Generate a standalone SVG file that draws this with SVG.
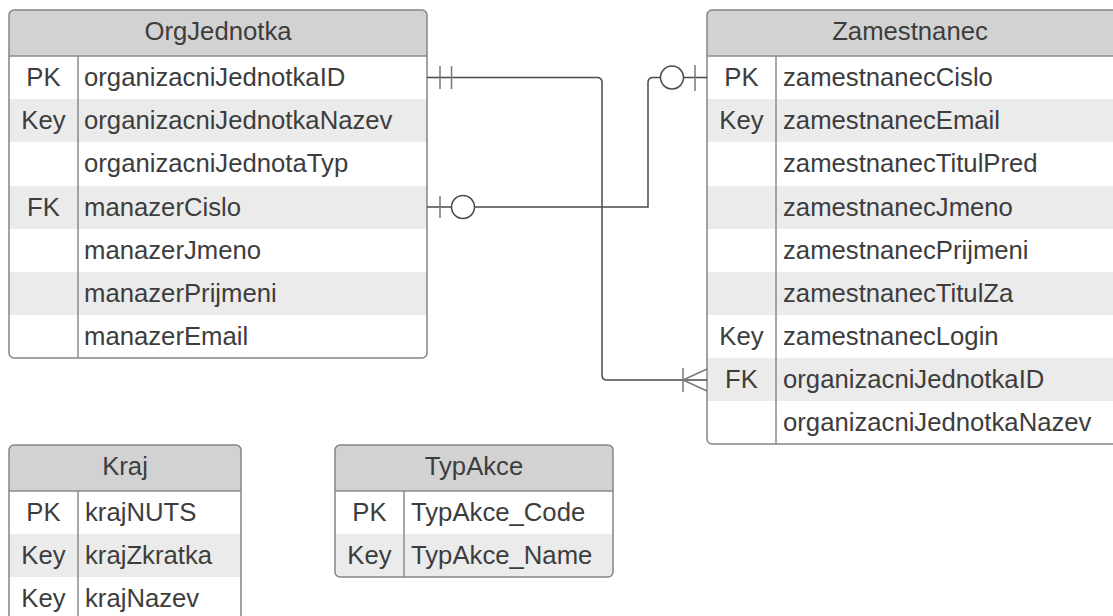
<svg xmlns="http://www.w3.org/2000/svg" width="1113" height="616" viewBox="0 0 1113 616">
<style>
.bg{fill:#ffffff}
.hd{fill:#d2d2d2}
.alt{fill:#ebebeb}
.bd{fill:none;stroke:#858585;stroke-width:1.5}
.dv{stroke:#8a8a8a;stroke-width:1.5}
text{font-family:"Liberation Sans",Arial,sans-serif;font-size:25.7px;fill:#3d3d3d}
.t{text-anchor:middle}
.k{text-anchor:middle}
.cn{fill:none;stroke:#4a4a4a;stroke-width:1.5}
.mk{fill:none;stroke:#777;stroke-width:1.5}
.ci{fill:#ffffff;stroke:#4a4a4a;stroke-width:1.5}
</style>
<defs>
<clipPath id="cOrg"><rect x="9" y="10" width="418" height="348" rx="5"/></clipPath>
<clipPath id="cZam"><rect x="707" y="10" width="420" height="434" rx="5"/></clipPath>
<clipPath id="cKraj"><rect x="9" y="445" width="232" height="180" rx="5"/></clipPath>
<clipPath id="cTyp"><rect x="335" y="445" width="278" height="132" rx="5"/></clipPath>
</defs>

<g id="OrgJednotka">
<g clip-path="url(#cOrg)">
<rect class="bg" x="9" y="10" width="418" height="348"/>
<rect class="hd" x="9" y="10" width="418" height="46"/>
<rect class="alt" x="9" y="99" width="418" height="43"/>
<rect class="alt" x="9" y="186" width="418" height="43"/>
<rect class="alt" x="9" y="272" width="418" height="43"/>
</g>
<line class="dv" x1="9" y1="56" x2="427" y2="56"/>
<line class="dv" x1="78" y1="56" x2="78" y2="358"/>
<rect class="bd" x="9" y="10" width="418" height="348" rx="5"/>
<text class="t" x="218" y="40">OrgJednotka</text>
<text class="k" x="43.5" y="86">PK</text><text x="84" y="86">organizacniJednotkaID</text>
<text class="k" x="43.5" y="129">Key</text><text x="84" y="129">organizacniJednotkaNazev</text>
<text x="84" y="172">organizacniJednotaTyp</text>
<text class="k" x="43.5" y="216">FK</text><text x="84" y="216">manazerCislo</text>
<text x="84" y="259">manazerJmeno</text>
<text x="84" y="302">manazerPrijmeni</text>
<text x="84" y="345">manazerEmail</text>
</g>

<g id="Zamestnanec">
<g clip-path="url(#cZam)">
<rect class="bg" x="707" y="10" width="420" height="434"/>
<rect class="hd" x="707" y="10" width="420" height="46"/>
<rect class="alt" x="707" y="99" width="420" height="43"/>
<rect class="alt" x="707" y="186" width="420" height="43"/>
<rect class="alt" x="707" y="272" width="420" height="43"/>
<rect class="alt" x="707" y="358" width="420" height="43"/>
</g>
<line class="dv" x1="707" y1="56" x2="1127" y2="56"/>
<line class="dv" x1="776" y1="56" x2="776" y2="444"/>
<rect class="bd" x="707" y="10" width="420" height="434" rx="5"/>
<text class="t" x="910" y="40">Zamestnanec</text>
<text class="k" x="741.5" y="86">PK</text><text x="783" y="86">zamestnanecCislo</text>
<text class="k" x="741.5" y="129">Key</text><text x="783" y="129">zamestnanecEmail</text>
<text x="783" y="172">zamestnanecTitulPred</text>
<text x="783" y="216">zamestnanecJmeno</text>
<text x="783" y="259">zamestnanecPrijmeni</text>
<text x="783" y="302">zamestnanecTitulZa</text>
<text class="k" x="741.5" y="345">Key</text><text x="783" y="345">zamestnanecLogin</text>
<text class="k" x="741.5" y="388">FK</text><text x="783" y="388">organizacniJednotkaID</text>
<text x="783" y="431">organizacniJednotkaNazev</text>
</g>

<g id="Kraj">
<g clip-path="url(#cKraj)">
<rect class="bg" x="9" y="445" width="232" height="180"/>
<rect class="hd" x="9" y="445" width="232" height="46"/>
<rect class="alt" x="9" y="534" width="232" height="43"/>
</g>
<line class="dv" x1="9" y1="491" x2="241" y2="491"/>
<line class="dv" x1="78" y1="491" x2="78" y2="625"/>
<rect class="bd" x="9" y="445" width="232" height="180" rx="5"/>
<text class="t" x="125" y="475">Kraj</text>
<text class="k" x="43.5" y="521">PK</text><text x="85" y="521">krajNUTS</text>
<text class="k" x="43.5" y="564">Key</text><text x="85" y="564">krajZkratka</text>
<text class="k" x="43.5" y="607">Key</text><text x="85" y="607">krajNazev</text>
</g>

<g id="TypAkce">
<g clip-path="url(#cTyp)">
<rect class="bg" x="335" y="445" width="278" height="132"/>
<rect class="hd" x="335" y="445" width="278" height="46"/>
<rect class="alt" x="335" y="534" width="278" height="43"/>
</g>
<line class="dv" x1="335" y1="491" x2="613" y2="491"/>
<line class="dv" x1="404" y1="491" x2="404" y2="577"/>
<rect class="bd" x="335" y="445" width="278" height="132" rx="5"/>
<text class="t" x="474" y="475">TypAkce</text>
<text class="k" x="369.5" y="521">PK</text><text x="411" y="521">TypAkce_Code</text>
<text class="k" x="369.5" y="564">Key</text><text x="411" y="564">TypAkce_Name</text>
</g>

<g id="connectors">
<!-- OrgJednotka.PK -> Zamestnanec.FK (one to one-or-many) -->
<path class="cn" d="M427,77.5 H597 Q602,77.5 602,82.5 V375 Q602,380 607,380 H707"/>
<line class="mk" x1="440" y1="66" x2="440" y2="89"/>
<line class="mk" x1="451.5" y1="66" x2="451.5" y2="89"/>
<line class="mk" x1="683" y1="368" x2="683" y2="392"/>
<path class="mk" d="M707,369 L683,380 L707,391"/>
<!-- OrgJednotka.manazerCislo -> Zamestnanec.PK (zero-or-one to zero-or-one) -->
<path class="cn" d="M427,207 H648 V82.5 Q648,77.5 653,77.5 H707"/>
<line class="mk" x1="440" y1="196" x2="440" y2="218"/>
<circle class="ci" cx="463" cy="207" r="11.5"/>
<circle class="ci" cx="672" cy="77.5" r="11.5"/>
<line class="mk" x1="695" y1="65" x2="695" y2="91"/>
</g>
</svg>
